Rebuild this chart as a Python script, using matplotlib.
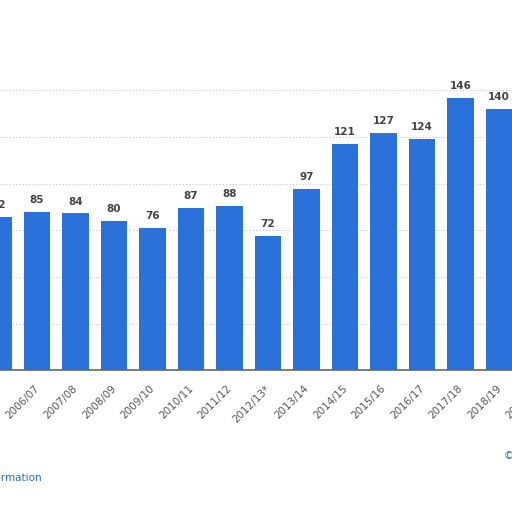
import matplotlib
matplotlib.use("Agg")
import matplotlib.pyplot as plt
import matplotlib.transforms as mtransforms
import numpy as np

seasons = ["2005/06", "2006/07", "2007/08", "2008/09", "2009/10", "2010/11", "2011/12",
           "2012/13*", "2013/14", "2014/15", "2015/16", "2016/17", "2017/18", "2018/19", "2019/20"]
values = [82, 85, 84, 80, 76, 87, 88, 72, 97, 121, 127, 124, 146, 140, 150]
yticks = [0, 25, 50, 75, 100, 125, 150]

bar_color = "#2a72d9"

fig = plt.figure(figsize=(5.12, 5.12), dpi=100)
fig.patch.set_facecolor("white")
ax = fig.add_axes([-0.048, 0.277, 1.143, 0.583])
x = np.arange(len(seasons))
ax.bar(x, values, width=0.68, color=bar_color, zorder=3)
ax.set_xlim(-0.6, 14.6)
ax.set_ylim(0, 160)
ax.set_yticks(yticks)
ax.yaxis.grid(True, linestyle=(0, (1, 2)), color="#c4c4c4", linewidth=0.8, zorder=0)
ax.tick_params(axis="y", left=False, labelleft=False)
ax.tick_params(axis="x", length=0, pad=6)
ax.set_xticks(x)
ax.set_xticklabels(seasons, rotation=45, ha="right", rotation_mode="anchor",
                   fontsize=7.5, color="#555555")
offset = mtransforms.ScaledTranslation(-3 / 100, -5 / 100, fig.dpi_scale_trans)
for lbl in ax.get_xticklabels():
    lbl.set_transform(lbl.get_transform() + offset)
for s in ["top", "right", "left"]:
    ax.spines[s].set_visible(False)
ax.spines["bottom"].set_color("#666666")
ax.spines["bottom"].set_linewidth(1.2)
ax.set_facecolor("none")

for xi, v in zip(x, values):
    ax.annotate(str(v), (xi, v), xytext=(0, 5), textcoords="offset points",
                ha="center", va="bottom", fontsize=7.5, fontweight="bold", color="#444444")

fig.text(42 / 512, 1 - 478 / 512, "Additional Information", ha="right", va="center",
         fontsize=7.5, color="#1f6fb5")
fig.text(504 / 512, 1 - 456 / 512, "© Statista 2021", ha="left", va="center",
         fontsize=7.5, color="#3a6fb0")

fig.savefig("out.png", dpi=100, facecolor="white")
